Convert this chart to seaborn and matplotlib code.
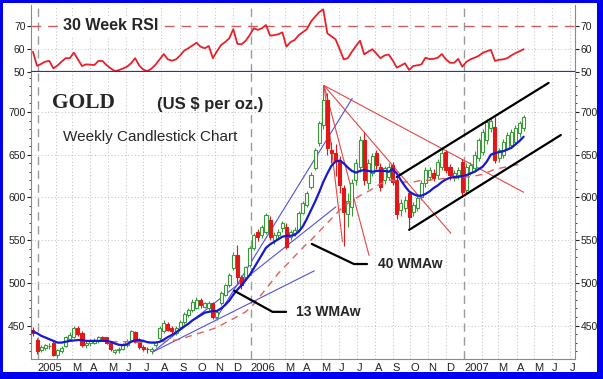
import matplotlib
matplotlib.use("Agg")
import matplotlib.pyplot as plt
import matplotlib.dates as mdates
from matplotlib.patches import Rectangle
import pandas as pd
import numpy as np
import seaborn as sns

# weekly gold candles, week ending Fridays from 24 Dec 2004
opens = [445, 433, 421, 424, 426, 430, 415, 420, 426, 434, 437, 447, 441, 427, 429, 430, 432, 436, 436, 429,
         419, 421, 423, 427, 433, 442, 433, 425, 423, 420, 427, 435, 443, 452, 447, 441, 448, 454, 462, 468,
         471, 480, 472, 470, 476, 460, 476, 486, 497, 517, 532, 507, 507, 521, 541, 560, 556, 560, 574, 550,
         556, 564, 565, 554, 558, 562, 582, 591, 612, 634, 664, 685, 714, 656, 652, 644, 611, 580, 589, 620,
         635, 667, 617, 629, 652, 636, 620, 624, 638, 620, 585, 588, 605, 583, 588, 600, 617, 624, 629, 626,
         636, 653, 636, 623, 626, 641, 609, 630, 634, 646, 653, 667, 681, 682, 646, 650, 658, 661, 665, 675, 681]
highs = [448, 435, 427, 428, 429, 432, 423, 426, 438, 442, 449, 449, 443, 432, 434, 435, 438, 438, 437, 430,
         423, 425, 430, 434, 445, 444, 435, 427, 425, 425, 432, 449, 456, 454, 449, 449, 456, 466, 470, 481,
         483, 482, 478, 479, 477, 468, 490, 499, 511, 536, 544, 509, 520, 543, 558, 563, 568, 582, 578, 560,
         563, 572, 570, 562, 565, 584, 596, 608, 630, 658, 690, 732, 722, 665, 662, 648, 614, 605, 622, 645,
         672, 677, 645, 652, 656, 640, 637, 640, 642, 624, 598, 602, 608, 595, 603, 620, 636, 636, 633, 645,
         658, 656, 639, 632, 636, 645, 640, 642, 654, 670, 680, 692, 694, 694, 658, 668, 676, 680, 685, 690, 697]
lows = [438, 417, 419, 421, 423, 414, 412, 418, 425, 432, 435, 438, 425, 424, 426, 428, 430, 432, 428, 420,
        417, 418, 421, 425, 431, 429, 423, 420, 418, 417, 425, 433, 441, 443, 440, 439, 446, 452, 460, 466,
        469, 471, 470, 468, 458, 457, 474, 484, 495, 515, 500, 493, 503, 519, 538, 549, 552, 557, 550, 546,
        552, 560, 540, 550, 555, 560, 580, 589, 610, 632, 660, 680, 650, 640, 625, 605, 543, 565, 578, 615,
        630, 615, 610, 625, 633, 608, 616, 620, 614, 575, 578, 583, 564, 578, 584, 597, 612, 620, 619, 622,
        632, 628, 620, 619, 622, 602, 605, 626, 630, 643, 650, 662, 676, 640, 641, 646, 655, 658, 662, 671, 678]
closes = [441, 420, 425, 427, 426, 416, 421, 424, 436, 439, 447, 440, 427, 430, 432, 433, 437, 434, 430, 422,
          421, 423, 428, 432, 443, 431, 425, 423, 422, 423, 431, 447, 453, 445, 443, 447, 454, 464, 468, 478,
          480, 474, 476, 476, 460, 466, 488, 497, 509, 532, 507, 497, 518, 541, 556, 554, 565, 579, 554, 556,
          560, 570, 542, 560, 562, 582, 593, 605, 626, 655, 687, 714, 658, 652, 644, 614, 583, 596, 617, 640,
          667, 620, 640, 648, 638, 612, 634, 636, 618, 580, 593, 597, 577, 591, 599, 617, 632, 632, 623, 641,
          652, 632, 626, 629, 632, 606, 636, 638, 650, 667, 677, 688, 690, 644, 655, 665, 673, 677, 681, 687, 694]

# 13 week moving average (blue)
wma13 = [443, 441, 438, 436, 434, 432, 430, 430, 431, 432, 432.5, 433, 433, 432, 432, 432, 432, 432, 432, 431,
         429, 427.5, 427, 428, 431, 432.5, 433, 432, 430.5, 430, 430, 431, 433.5, 436.5, 439, 442, 445.5, 449, 452, 456,
         459, 462, 465, 466, 467, 467, 470, 474, 479, 486, 492, 497, 503, 509, 517, 525, 533, 541, 545, 548,
         551, 554, 555, 555, 556, 560, 566, 575, 585, 595, 606, 618, 628, 637, 642, 643, 640, 635, 631, 629,
         631, 632, 631, 630, 631, 631, 631, 630, 633, 628, 620, 613, 607, 604, 602, 602, 604, 607, 611, 614,
         618, 621, 623, 624, 624, 625, 626, 628, 630, 633, 636, 642, 650, 652, 653, 654, 656, 658, 662, 666, 671]

# 40 week moving average (red dashed), starts in May 2005
wma40 = [np.nan] * 19 + [
    431, 431, 431, 431, 431, 431, 430.5, 430.5, 430, 430,
    430, 430.5, 431, 431.5, 432, 432.5, 433, 434,
    435.5, 437, 438.5, 440, 441.5, 443, 444.5, 446, 448,
    450.5, 453, 455.5, 458, 460.5, 463, 466, 470,
    475, 481, 487, 493, 499, 505, 511,
    516, 521, 526, 531, 536, 541, 546, 550,
    555, 560, 565, 570, 575, 580, 585,
    589, 593, 596, 599, 602, 605, 607,
    610, 613, 616, 618, 620,
    620, 619, 618, 618, 618, 618, 619, 620, 620, 620, 621,
    621, 622, 622, 623, 623, 623, 624, 624, 624,
    625, 626, 627, 629, 631, 633, 634, 635, 636, 637, 638, 638, 639]

rsi30 = [58.8, 52.7, 53.5, 54.5, 54.8, 51.6, 52.8, 54.5, 56, 56, 58.4, 55.5, 52.6, 53.3, 53.2, 53, 54.8, 54.8, 53, 51.6,
         50.4, 50.8, 51.5, 52.3, 53.8, 56, 52.8, 51, 50.4, 51.5, 53.2, 55.5, 57.8, 55.5, 54.9, 55.5, 57.2, 59.3, 60.3, 61.5,
         62.7, 61, 60.3, 61.3, 56, 59, 61.7, 63, 64.6, 68.6, 62.2, 62, 63.5, 66, 69, 68.3, 69, 70.4, 65.8, 66,
         66.4, 67.2, 61, 63, 63.9, 66, 67.3, 68.6, 71.9, 74, 76, 77.2, 66.8, 65.5, 64.2, 60, 55.5, 56, 58.8, 61.3,
         63.6, 57.7, 58.8, 59.9, 58, 56, 57.2, 57.6, 55, 51.9, 52.8, 53.8, 50.9, 52.6, 52.9, 53.3, 56.2, 55.6, 55.7, 56.2,
         57.8, 55.5, 54, 54, 55.7, 52.3, 54.4, 55.5, 56.2, 57, 58.3, 59, 59.6, 54.8, 55.3, 55.5, 56, 57.2, 58.2, 59, 59.9]

# hand drawn trend lines: (week index, price) pairs
up_fan = [((29.3, 419), (68.8, 514)), ((29.3, 419), (74.1, 589)), ((44.8, 458), (78.1, 716))]
peak_fan = [((71.2, 731), (75.7, 548)), ((71.2, 731), (82.2, 532)), ((71.2, 731), (102.2, 558)),
            ((71.2, 731), (120, 606))]
channel = [((89, 624), (126.1, 734)), ((92, 562), (129.1, 673))]

dates = pd.date_range("2004-12-24", periods=len(closes), freq="7D")
df = pd.DataFrame({"date": dates, "open": opens, "high": highs, "low": lows, "close": closes,
                   "wma13": wma13, "wma40": wma40, "rsi": rsi30})
xnum = mdates.date2num(df["date"])
start = xnum[0]


def wk(i):
    return start + 7 * i


sns.set_style("white")
plt.rcParams["font.family"] = ["Liberation Sans", "DejaVu Sans"]

W, H = 603, 379
fig = plt.figure(figsize=(W / 100, H / 100), dpi=100)
fig.patch.set_facecolor("#0000f0")
fig.patches.append(Rectangle((3 / W, 7 / H), 594 / W, 369 / H, transform=fig.transFigure,
                             facecolor="white", edgecolor="none", zorder=-10))

ax_r = fig.add_axes([31 / W, (H - 72) / H, 544 / W, 67 / H])
ax = fig.add_axes([31 / W, (H - 359) / H, 544 / W, 287 / H], sharex=ax_r)
for a in (ax_r, ax):
    a.set_facecolor("white")

xmin = mdates.date2num(pd.Timestamp("2004-12-20 16:00"))
xmax = mdates.date2num(pd.Timestamp("2007-07-10"))

month_starts = pd.date_range("2005-01-01", "2007-07-01", freq="MS")
year_starts = pd.to_datetime(["2005-01-01", "2006-01-01", "2007-01-01"])
labels = [str(d.year) if d.month == 1 else ("" if d.month == 2 else d.strftime("%b")[0]) for d in month_starts]

for a in (ax_r, ax):
    for d in month_starts:
        if d not in year_starts:
            a.axvline(d, color="#c8c8c8", lw=0.8, ls=(0, (1, 2)), zorder=0)
    for d in year_starts:
        a.axvline(d, color="#9a9a9a", lw=1.0, ls=(0, (6, 4)), zorder=0)
    for s in ("left", "right", "bottom"):
        a.spines[s].set_color("#8a8a8a")
    a.spines["top"].set_visible(False)

# RSI panel
ax_r.axhline(60, color="#c8c8c8", lw=0.8, ls=(0, (1, 2)), zorder=0)
ax_r.axhline(70, color="#c86060", lw=1.0, ls=(0, (7, 5)), zorder=1)
sns.lineplot(data=df, x="date", y="rsi", ax=ax_r, color="#e8202a", lw=1.3, zorder=3)
ax_r.axhline(50, color="#2a2ad8", lw=1.6, zorder=4)
ax_r.set_ylim(50, 79.1)
ax_r.set_yticks([50, 60, 70])
ax_r.spines["bottom"].set_visible(False)
ax_r.text((63 - 31) / 544, 70, "30 Week RSI", transform=ax_r.get_yaxis_transform(),
          fontsize=11.5, fontweight="bold", va="center", ha="left", zorder=5,
          bbox=dict(facecolor="white", edgecolor="none", pad=2))

# price panel grid
for lvl in range(450, 701, 50):
    ax.axhline(lvl, color="#c8c8c8", lw=0.8, ls=(0, (1, 2)), zorder=0)

# trend lines
for (p0, p1) in up_fan:
    ax.plot([wk(p0[0]), wk(p1[0])], [p0[1], p1[1]], color="#5050e0", lw=0.8, zorder=2)
for (p0, p1) in peak_fan:
    ax.plot([wk(p0[0]), wk(p1[0])], [p0[1], p1[1]], color="#e04848", lw=0.8, zorder=2)
for (p0, p1) in channel:
    ax.plot([wk(p0[0]), wk(p1[0])], [p0[1], p1[1]], color="black", lw=1.6, zorder=5)

# candles
up = (df["close"] >= df["open"]).to_numpy()
bw = 5.2
ax.vlines(xnum[up], df["low"][up], df["high"][up], color="#3a9a3a", lw=0.8, zorder=3)
ax.vlines(xnum[~up], df["low"][~up], df["high"][~up], color="#e01818", lw=0.8, zorder=3)
ax.bar(xnum[up], (df["close"] - df["open"])[up], bottom=df["open"][up], width=bw,
       facecolor="white", edgecolor="#3a9a3a", lw=0.8, zorder=4)
ax.bar(xnum[~up], (df["open"] - df["close"])[~up], bottom=df["close"][~up], width=bw,
       facecolor="#e01818", edgecolor="#e01818", lw=0.8, zorder=4)

sns.lineplot(data=df, x="date", y="wma40", ax=ax, color="#e06060", lw=1.0, ls=(0, (5, 4)), zorder=4)
sns.lineplot(data=df, x="date", y="wma13", ax=ax, color="#1818d0", lw=1.6, zorder=5)

ax.set_ylim(410.8, 746.8)
ax.set_yticks(range(450, 701, 50))
ax.set_yticks(range(420, 741, 10), minor=True)
ax.set_xlim(xmin, xmax)
ax.set_xticks(month_starts)
ax.set_xticklabels(labels)
for t in ax.get_xticklabels():
    t.set_ha("left")
ax.xaxis.set_minor_locator(mdates.WeekdayLocator(byweekday=mdates.FR))

for a in (ax_r, ax):
    a.set_xlabel("")
    a.set_ylabel("")
    a.tick_params(axis="y", which="both", left=True, right=True, labelleft=True, labelright=True,
                  labelsize=7.5, colors="#222222", direction="out", pad=1)
    a.tick_params(axis="y", which="major", length=3)
    a.tick_params(axis="y", which="minor", length=1.5)
ax_r.tick_params(axis="x", which="both", bottom=False, labelbottom=False)
ax.tick_params(axis="x", which="major", length=3, labelsize=8, pad=0, colors="#222222")
ax.tick_params(axis="x", which="minor", length=2)


# titles and annotations
def axfrac(px, py):
    return (px - 31) / 544, (359 - py) / 287


ax.text(*axfrac(52, 103), "GOLD", transform=ax.transAxes, fontsize=15.5, fontweight="bold",
        family="Liberation Serif", va="center", ha="left")
ax.text(*axfrac(157, 104), "(US $ per oz.)", transform=ax.transAxes, fontsize=12, fontweight="bold",
        va="center", ha="left")
ax.text(*axfrac(63, 137), "Weekly Candlestick Chart", transform=ax.transAxes, fontsize=11,
        va="center", ha="left")

ax.plot([wk(68.2), wk(78.5), wk(81.7)], [545.5, 522, 522], color="black", lw=1.6, zorder=6)
ax.text(wk(84.5), 522, "40 WMAw", fontsize=10, fontweight="bold", va="center", ha="left")
ax.plot([wk(49.2), wk(58.6), wk(61.9)], [490.8, 466, 466], color="black", lw=1.6, zorder=6)
ax.text(wk(64.4), 466, "13 WMAw", fontsize=10, fontweight="bold", va="center", ha="left")

fig.savefig("out.png", dpi=100, facecolor=fig.get_facecolor())
